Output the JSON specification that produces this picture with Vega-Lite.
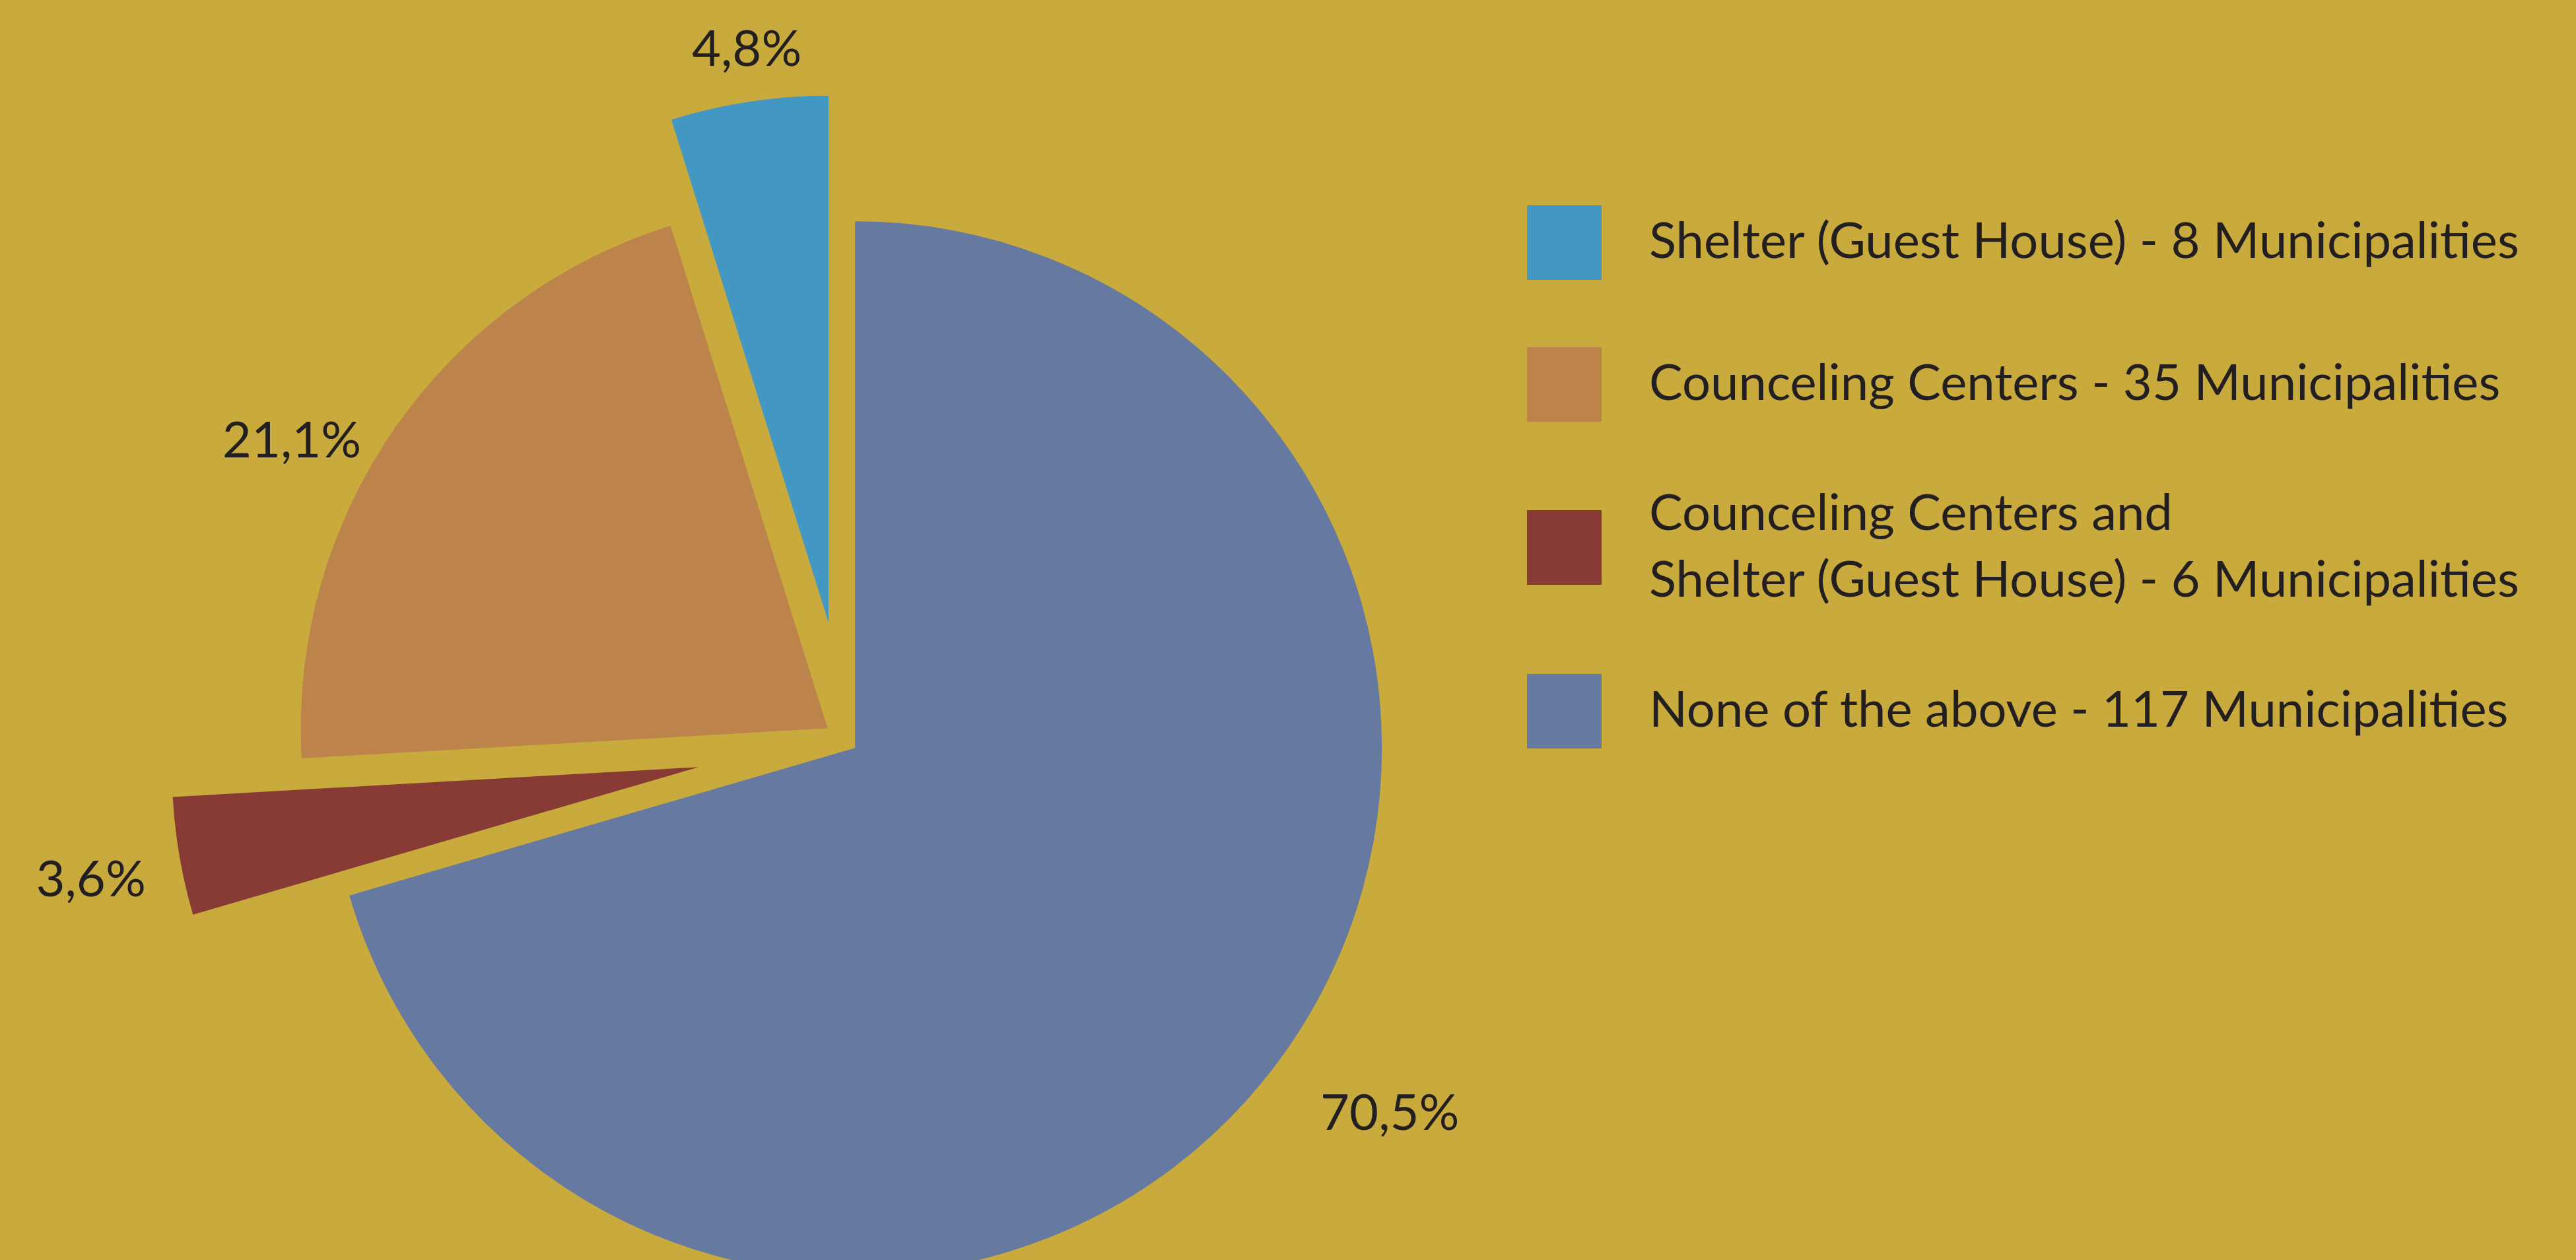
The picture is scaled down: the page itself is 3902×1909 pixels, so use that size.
{
  "$schema": "https://vega.github.io/schema/vega-lite/v6.json",
  "width": 3902,
  "height": 1909,
  "autosize": {"type": "none"},
  "padding": 0,
  "background": "#C9AA3D",
  "config": {"view": {"stroke": null}, "font": "Lato"},
  "data": {
    "values": [
      {"category": "None of the above - 117 Municipalities", "municipalities": 117},
      {"category": "Counceling Centers and Shelter (Guest House) - 6 Municipalities", "municipalities": 6},
      {"category": "Counceling Centers - 35 Municipalities", "municipalities": 35},
      {"category": "Shelter (Guest House) - 8 Municipalities", "municipalities": 8}
    ]
  },
  "transform": [
    {"joinaggregate": [{"op": "sum", "field": "municipalities", "as": "total"}]},
    {"window": [{"op": "sum", "field": "municipalities", "as": "cum"}], "frame": [null, 0]},
    {"calculate": "(datum.cum - datum.municipalities) / datum.total", "as": "start"},
    {"calculate": "datum.cum / datum.total", "as": "end"},
    {"calculate": "(datum.start + datum.end) / 2", "as": "mid"},
    {"calculate": "replace(format(datum.municipalities / datum.total, '.1%'), '.', ',')", "as": "pct"},
    {"calculate": "datum.municipalities == 117 ? 0.02 : datum.municipalities == 35 ? 0.044 : datum.municipalities == 8 ? 0.229 : 0.285", "as": "explode"},
    {"calculate": "datum.municipalities == 117 ? 1.231 : datum.municipalities == 35 ? 1.153 : datum.municipalities == 8 ? 1.096 : 1.174", "as": "labelDistance"},
    {"calculate": "datum.mid + (datum.municipalities == 117 ? -0.0067 : datum.municipalities == 35 ? -0.0183 : datum.municipalities == 8 ? 0.0015 : -0.0025)", "as": "labelAngle"},
    {"calculate": "datum.explode * sin(2 * PI * datum.mid)", "as": "dx"},
    {"calculate": "datum.explode * cos(2 * PI * datum.mid)", "as": "dy"}
  ],
  "encoding": {
    "x": {"field": "dx", "type": "quantitative", "scale": {"domain": [-1.6071, 3.2826], "nice": false, "zero": false}, "axis": null},
    "y": {"field": "dy", "type": "quantitative", "scale": {"domain": [-0.9842, 1.408], "nice": false, "zero": false}, "axis": null}
  },
  "layer": [
    {
      "mark": {"type": "arc", "radius": 798, "strokeWidth": 0},
      "encoding": {
        "theta": {"field": "start", "type": "quantitative", "scale": {"domain": [0, 1], "range": [0, 6.283185307179586]}},
        "theta2": {"field": "end"},
        "color": {
          "field": "category",
          "type": "nominal",
          "scale": {
            "domain": [
              "Shelter (Guest House) - 8 Municipalities",
              "Counceling Centers - 35 Municipalities",
              "Counceling Centers and Shelter (Guest House) - 6 Municipalities",
              "None of the above - 117 Municipalities"
            ],
            "range": ["#4397C3", "#BC844B", "#873B34", "#6579A1"]
          },
          "legend": {
            "orient": "none",
            "legendX": 2313,
            "legendY": 311,
            "title": null,
            "padding": 0,
            "symbolType": "square",
            "symbolSize": 12769,
            "symbolStrokeWidth": 0,
            "symbolOpacity": 1,
            "labelFont": "Lato",
            "labelFontSize": 76,
            "labelColor": "#231F20",
            "labelLimit": 3000,
            "labelOffset": 72,
            "rowPadding": 102,
            "labelExpr": "datum.label == 'Counceling Centers and Shelter (Guest House) - 6 Municipalities' ? ['Counceling Centers and', 'Shelter (Guest House) - 6 Municipalities'] : datum.label",
            "encode": {
              "labels": {
                "update": {
                  "lineHeight": {"value": 101},
                  "dy": {"signal": "datum.value == 'Counceling Centers and Shelter (Guest House) - 6 Municipalities' ? -50 : 0"}
                }
              }
            }
          }
        }
      }
    },
    {
      "mark": {"type": "text", "fontSize": 76, "font": "Lato", "color": "#231F20"},
      "encoding": {
        "theta": {"field": "labelAngle", "type": "quantitative", "scale": {"domain": [0, 1], "range": [0, 6.283185307179586]}},
        "radius": {"field": "labelDistance", "type": "quantitative", "scale": {"type": "linear", "domain": [0, 1], "range": [0, 798], "zero": true, "nice": false}},
        "text": {"field": "pct", "type": "nominal"}
      }
    }
  ]
}
